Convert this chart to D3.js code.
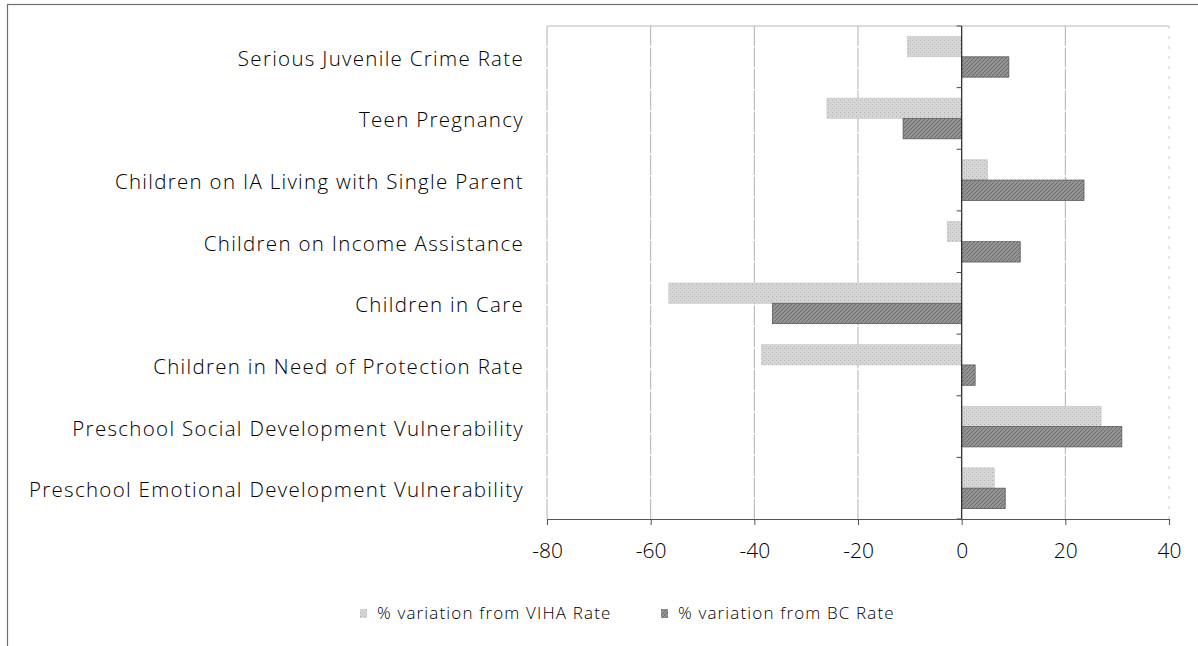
<!DOCTYPE html>
<html>
<head>
<meta charset="utf-8">
<script src="https://cdn.jsdelivr.net/npm/d3@7"></script>
<style>
html,body{margin:0;padding:0;background:#fff;}
svg{display:block;}
text{font-family:"Open Sans","Noto Sans",sans-serif;fill:#000;}
</style>
</head>
<body>
<svg id="chart" width="1198" height="646"></svg>
<script>
const categories = [
  "Serious Juvenile Crime Rate",
  "Teen Pregnancy",
  "Children on IA Living with Single Parent",
  "Children on Income Assistance",
  "Children in Care",
  "Children in Need of Protection Rate",
  "Preschool Social Development Vulnerability",
  "Preschool Emotional Development Vulnerability"
];
const vihaValues = [-10.5, -26, 5, -2.8, -56.5, -38.6, 26.9, 6.3];
const bcValues   = [9.1, -11.3, 23.6, 11.3, -36.5, 2.6, 30.9, 8.4];
const seriesNames = ["% variation from VIHA Rate", "% variation from BC Rate"];
const xTicks = [-80, -60, -40, -20, 0, 20, 40];

const svg = d3.select("#chart");
const plot = {left: 547, right: 1169, top: 26, bottom: 519};

// defs: textured fills
const defs = svg.append("defs");
const p1 = defs.append("pattern").attr("id","pViha").attr("patternUnits","userSpaceOnUse").attr("width",4).attr("height",4);
p1.append("rect").attr("width",4).attr("height",4).attr("fill","#d6d6d6");
p1.append("rect").attr("x",0).attr("y",0).attr("width",1).attr("height",1).attr("fill","#aeaeae");
p1.append("rect").attr("x",2).attr("y",2).attr("width",1).attr("height",1).attr("fill","#bababa");
const p2 = defs.append("pattern").attr("id","pBc").attr("patternUnits","userSpaceOnUse").attr("width",4).attr("height",4);
p2.append("rect").attr("width",4).attr("height",4).attr("fill","#939393");
p2.append("path").attr("d","M0,4 L4,0 M-1,1 L1,-1 M3,5 L5,3").attr("stroke","#6c6c6c").attr("stroke-width",1);

// outer frame
svg.append("rect").attr("x",7.5).attr("y",4.5).attr("width",1250).attr("height",700)
  .attr("fill","none").attr("stroke","#6e6e6e").attr("stroke-width",1.2);

const x = d3.scaleLinear().domain([-80, 40]).range([plot.left, plot.right]);
const y = d3.scaleBand().domain(categories).range([plot.top, plot.bottom]).paddingInner(0.34).paddingOuter(0.17);
const ySub = d3.scaleBand().domain(seriesNames).range([0, y.bandwidth()]);

// top border of plot
svg.append("line").attr("x1",plot.left).attr("x2",plot.right).attr("y1",plot.top).attr("y2",plot.top)
  .attr("stroke","#b8b8b8").attr("stroke-width",1);

// gridlines
svg.append("g").selectAll("line").data(xTicks.filter(d => d !== 0)).join("line")
  .attr("x1", d => x(d)).attr("x2", d => x(d))
  .attr("y1", plot.top).attr("y2", plot.bottom)
  .attr("stroke", d => d === 40 ? "#cccccc" : "#b0b0b0").attr("stroke-width", 1)
  .attr("stroke-dasharray", d => d === 40 ? "3,7" : "20,1.5");

// bars
const data = categories.map((c,i) => ({c, v: [vihaValues[i], bcValues[i]]}));
const g = svg.append("g");
data.forEach(d => {
  d.v.forEach((val, j) => {
    g.append("rect")
      .attr("x", x(Math.min(0, val)))
      .attr("width", Math.abs(x(val) - x(0)))
      .attr("y", y(d.c) + ySub(seriesNames[j]))
      .attr("height", ySub.bandwidth())
      .attr("fill", j === 0 ? "url(#pViha)" : "url(#pBc)")
      .attr("stroke", j === 0 ? "#c6c6c6" : "#5a5a5a")
      .attr("stroke-width", j === 0 ? 0.6 : 0.8);
  });
});

// vertical (zero) axis
const yAxis = svg.append("g").attr("transform", `translate(${x(0)},0)`);
yAxis.append("line").attr("x1",0).attr("x2",0).attr("y1",plot.top).attr("y2",plot.bottom)
  .attr("stroke","#333").attr("stroke-width",1.3);
const bounds = d3.range(categories.length + 1).map(i => plot.top + i * (plot.bottom - plot.top) / categories.length);
yAxis.selectAll("line.tk").data(bounds).join("line").attr("class","tk")
  .attr("x1",-5).attr("x2",0).attr("y1",d=>d).attr("y2",d=>d)
  .attr("stroke","#444").attr("stroke-width",1);

// category labels
svg.append("g").selectAll("text").data(categories).join("text")
  .attr("x", 524)
  .attr("y", d => y(d) + y.bandwidth()/2 + 9)
  .attr("text-anchor","end")
  .attr("font-size", 20.5)
  .attr("font-weight", 300)
  .attr("letter-spacing", 1.3)
  .text(d => d);

// x axis
const xAxis = d3.axisBottom(x).tickValues(xTicks).tickSize(6).tickPadding(18).tickFormat(d => String(d));
const ax = svg.append("g").attr("transform", `translate(0,${plot.bottom})`).call(xAxis);
ax.select(".domain").attr("stroke","#555").attr("stroke-width",1.1);
ax.selectAll(".tick line").attr("stroke","#555");
ax.selectAll(".tick text").attr("font-size",21).attr("font-weight",300)
  .attr("font-family","\"Open Sans\",sans-serif").attr("fill","#000");

// legend
const legend = [
  {name: seriesNames[0], fill: "url(#pViha)", sx: 360, tx: 377},
  {name: seriesNames[1], fill: "url(#pBc)", sx: 661, tx: 678}
];
const lg = svg.append("g");
legend.forEach(l => {
  lg.append("rect").attr("x", l.sx).attr("y", 609).attr("width", 7).attr("height", 9).attr("fill", l.fill);
  lg.append("text").attr("x", l.tx).attr("y", 619).attr("font-size", 17).attr("font-weight", 300)
    .attr("letter-spacing", 1.15).text(l.name);
});
</script>
</body>
</html>
